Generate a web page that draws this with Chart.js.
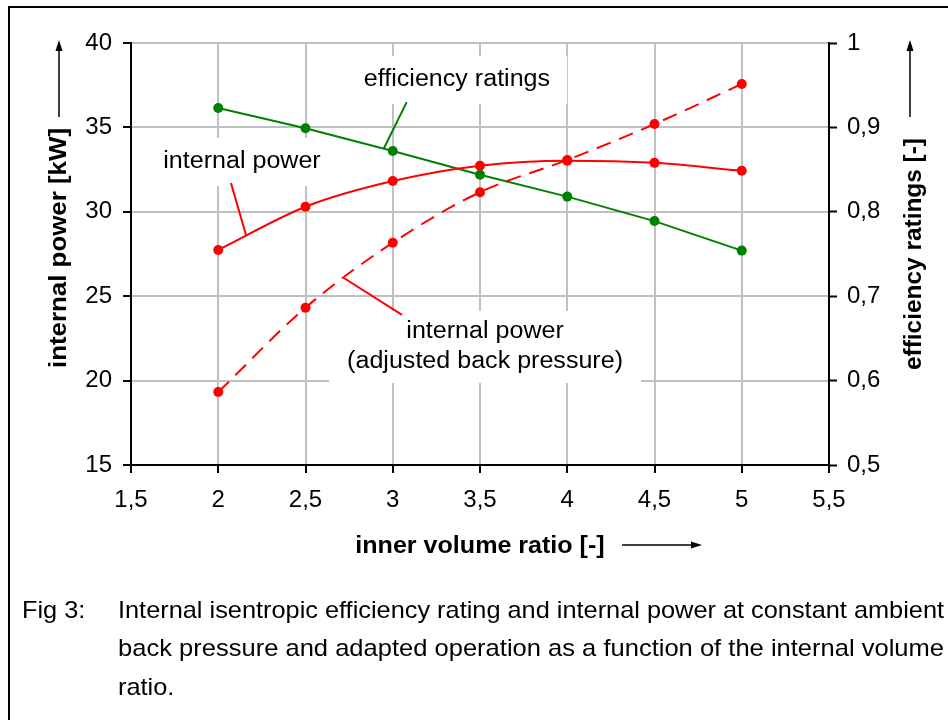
<!DOCTYPE html>
<html>
<head>
<meta charset="utf-8">
<script src="https://cdn.jsdelivr.net/npm/chart.js@4/dist/chart.umd.min.js"></script>
<style>
  body { margin: 0; background: #fff; }
  #wrap { width: 948px; height: 720px; }
</style>
</head>
<body>
<div id="wrap"><canvas id="chart" width="948" height="720"></canvas></div>
<script>
// Values
const ratios = [2, 2.5, 3, 3.5, 4, 4.5, 5];
const internalPower = [27.74, 30.3, 31.82, 32.73, 33.03, 32.9, 32.43];
const adjustedPower = [19.32, 24.32, 28.17, 31.16, 33.07, 35.2, 37.57];
const efficiency = [0.923, 0.899, 0.872, 0.844, 0.818, 0.789, 0.754];

const xTitle = 'inner volume ratio [-]';
const yTitle = 'internal power [kW]';
const y1Title = 'efficiency ratings [-]';
const captionLines = [
    'Internal isentropic efficiency rating and internal power at constant ambient',
    'back pressure and adapted operation as a function of the internal volume',
    'ratio.'
];

const FONT = '"Liberation Sans", Arial, sans-serif';
const STRETCH = 1.09; // the figure's text is a bit wider than plain Arial

// Labels inside the plot, placed in data coordinates (x, left axis y)
const labels = [
    { lines: ['efficiency ratings'], x: 3.368, y: 37.81, padX: 17, padY: 9 },
    { lines: ['internal power'], x: 2.136, y: 32.95, padX: 6, padY: 9 },
    { lines: ['internal power', '(adjusted back pressure)'], x: 3.529, y: 21.99, padX: 18, padY: 6 }
];
const leaders = [
    { from: [3.08, 36.5], to: [2.95, 33.78], color: '#008000' },
    { from: [2.073, 31.7], to: [2.159, 28.63], color: '#ff0000' },
    { from: [2.72, 26.08], to: [3.053, 23.89], color: '#ff0000' }
];

const toPoints = (ys) => ratios.map((x, i) => ({ x: x, y: ys[i] }));
const comma = (v) => String(Math.round(v * 10) / 10).replace('.', ',');

function drawStretched(ctx, text, x, y, sx, angle) {
    ctx.save();
    ctx.translate(x, y);
    if (angle) ctx.rotate(angle);
    ctx.scale(sx, 1);
    ctx.fillText(text, 0, 0);
    ctx.restore();
}

function arrow(ctx, x1, y1, x2, y2) {
    const a = Math.atan2(y2 - y1, x2 - x1);
    ctx.beginPath();
    ctx.moveTo(x1, y1);
    ctx.lineTo(x2 - 8 * Math.cos(a), y2 - 8 * Math.sin(a));
    ctx.stroke();
    ctx.beginPath();
    ctx.moveTo(x2, y2);
    ctx.lineTo(x2 - 11 * Math.cos(a) + 3.5 * Math.sin(a), y2 - 11 * Math.sin(a) - 3.5 * Math.cos(a));
    ctx.lineTo(x2 - 11 * Math.cos(a) - 3.5 * Math.sin(a), y2 - 11 * Math.sin(a) + 3.5 * Math.cos(a));
    ctx.closePath();
    ctx.fill();
}

const annotate = {
    id: 'annotate',
    beforeDatasetsDraw(chart) {
        const { ctx, scales: { x, y } } = chart;
        ctx.save();
        ctx.font = '23px ' + FONT;
        // white boxes behind the labels hide the grid
        labels.forEach(l => {
            const w = Math.max(...l.lines.map(t => ctx.measureText(t).width)) * STRETCH;
            const h = l.lines.length * 30;
            const cx = x.getPixelForValue(l.x), cy = y.getPixelForValue(l.y);
            ctx.fillStyle = '#fff';
            ctx.fillRect(cx - w / 2 - l.padX, cy - h / 2 - l.padY, w + 2 * l.padX, h + 2 * l.padY);
        });
        ctx.lineWidth = 2;
        leaders.forEach(d => {
            ctx.strokeStyle = d.color;
            ctx.beginPath();
            ctx.moveTo(x.getPixelForValue(d.from[0]), y.getPixelForValue(d.from[1]));
            ctx.lineTo(x.getPixelForValue(d.to[0]), y.getPixelForValue(d.to[1]));
            ctx.stroke();
        });
        ctx.fillStyle = '#000';
        ctx.textAlign = 'center';
        ctx.textBaseline = 'middle';
        labels.forEach(l => {
            const cx = x.getPixelForValue(l.x), cy = y.getPixelForValue(l.y);
            const top = cy - (l.lines.length - 1) * 15;
            l.lines.forEach((t, i) => drawStretched(ctx, t, cx, top + i * 30, STRETCH));
        });
        ctx.restore();
    },
    afterDraw(chart) {
        const ctx = chart.ctx;
        ctx.save();
        ctx.fillStyle = '#000';
        ctx.strokeStyle = '#000';
        ctx.textAlign = 'center';
        ctx.textBaseline = 'middle';

        // axis titles
        ctx.font = 'bold 23px ' + FONT;
        drawStretched(ctx, xTitle, 480, 547, STRETCH);
        let w = ctx.measureText(yTitle).width;
        drawStretched(ctx, yTitle, 60, 248, 240 / w, -Math.PI / 2);
        w = ctx.measureText(y1Title).width;
        drawStretched(ctx, y1Title, 915, 254, 232 / w, -Math.PI / 2);

        // arrows next to the titles
        ctx.lineWidth = 1.5;
        arrow(ctx, 59, 117, 59, 40);
        arrow(ctx, 910, 117, 910, 40);
        arrow(ctx, 622, 545, 702, 545);

        // caption (narrow face in the original, squeezed to fit)
        ctx.textAlign = 'left';
        ctx.font = '24px "Liberation Sans Narrow", "Liberation Sans", Arial, sans-serif';
        const sx = 826 / ctx.measureText(captionLines[0]).width;
        drawStretched(ctx, 'Fig 3:', 22, 611, sx);
        const sx2 = 826 / ctx.measureText(captionLines[1]).width;
        drawStretched(ctx, captionLines[0], 118, 611, sx);
        drawStretched(ctx, captionLines[1], 118, 649, sx2);
        drawStretched(ctx, captionLines[2], 118, 688, sx);

        // frame round the figure
        ctx.lineWidth = 2;
        ctx.beginPath();
        ctx.moveTo(9, 720);
        ctx.lineTo(9, 7);
        ctx.lineTo(948, 7);
        ctx.stroke();
        ctx.restore();
    }
};

const tickFont = { family: FONT, size: 24 };

new Chart(document.getElementById('chart'), {
    type: 'line',
    data: {
        datasets: [
            {
                label: 'internal power',
                data: toPoints(internalPower),
                yAxisID: 'y',
                borderColor: '#ff0000',
                backgroundColor: '#ff0000',
                borderWidth: 2,
                pointRadius: 5,
                pointBorderWidth: 0,
                cubicInterpolationMode: 'monotone'
            },
            {
                label: 'internal power (adjusted back pressure)',
                data: toPoints(adjustedPower),
                yAxisID: 'y',
                borderColor: '#ff0000',
                backgroundColor: '#ff0000',
                borderWidth: 2,
                borderDash: [15, 9],
                pointRadius: 5,
                pointBorderWidth: 0,
                cubicInterpolationMode: 'monotone'
            },
            {
                label: 'efficiency ratings',
                data: toPoints(efficiency),
                yAxisID: 'y1',
                borderColor: '#008000',
                backgroundColor: '#008000',
                borderWidth: 2,
                pointRadius: 5,
                pointBorderWidth: 0,
                tension: 0
            }
        ]
    },
    options: {
        responsive: false,
        animation: false,
        layout: { padding: { top: 43, left: 0, right: 0, bottom: 0 } },
        plugins: {
            legend: { display: false },
            tooltip: { enabled: false }
        },
        scales: {
            x: {
                type: 'linear',
                min: 1.5,
                max: 5.5,
                afterFit: (s) => { s.height = 255; },
                ticks: { stepSize: 0.5, font: tickFont, color: '#000', padding: 13, maxRotation: 0, callback: comma },
                grid: { color: '#c0c0c0', lineWidth: 2, tickColor: '#000', tickLength: 8, tickWidth: 2 },
                border: { color: '#000', width: 2 }
            },
            y: {
                position: 'left',
                min: 15,
                max: 40,
                afterFit: (s) => { s.width = 131; },
                ticks: { stepSize: 5, font: tickFont, color: '#000', padding: 11 },
                grid: { color: '#c0c0c0', lineWidth: 2, tickColor: '#000', tickLength: 8, tickWidth: 2 },
                border: { color: '#000', width: 2 }
            },
            y1: {
                position: 'right',
                min: 0.5,
                max: 1,
                afterFit: (s) => { s.width = 119; },
                ticks: { stepSize: 0.1, font: tickFont, color: '#000', padding: 10, callback: comma },
                grid: { drawOnChartArea: false, tickColor: '#000', tickLength: 8, tickWidth: 2 },
                border: { color: '#000', width: 2 }
            }
        }
    },
    plugins: [annotate]
});
</script>
</body>
</html>
